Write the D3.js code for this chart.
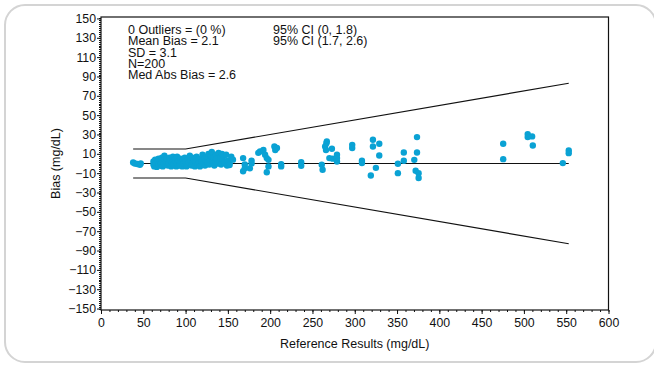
<!DOCTYPE html>
<html lang="en">
<head>
  <meta charset="UTF-8">
  <title>Bias plot</title>
  <script src="https://d3js.org/d3.v7.min.js"></script>
  <style>
    body { margin: 0; background: #fff; }
    svg { display: block; font-family: "Liberation Sans", Arial, sans-serif; }
    .tick text { font-size: 12.3px; fill: #111; }
    .tick line { stroke: #111; }
    .stats { font-size: 12.5px; fill: #111; }
    .axis-title { font-size: 12.5px; fill: #111; }
    .point { fill: #0aa2d4; }
    .ref-line { fill: none; stroke: #111; stroke-width: 1.1; }
  </style>
</head>
<body>
  <svg id="chart" width="654" height="365"></svg>
  <script>
    // ---- data ----
    // reference result (mg/dL) and bias (mg/dL), one entry per point
    const refX = [
      38, 40, 43, 46, 47,
      62, 62, 63, 64, 65, 66, 67, 68, 68, 70, 70, 71, 72, 73, 74, 75, 75, 76,
      77, 78, 79, 80, 81, 82, 83, 84, 85, 86, 87, 88, 89, 90, 90,
      92, 93, 94, 95, 96, 97, 98, 99, 100, 101, 102, 103, 104, 105,
      106, 107, 108, 109, 110, 111, 112, 113, 114, 115, 116, 117, 118, 119, 120,
      121, 122, 123, 124, 125, 126, 127, 128, 129, 130, 131, 132, 133, 134, 135,
      136, 137, 138, 139, 140, 141, 142, 143, 144, 145, 146, 148, 149, 150, 152, 152, 154, 156,
      168, 168, 170, 170, 176, 178, 178, 186, 188, 192, 194, 196, 198, 198, 196,
      205, 206, 208, 213, 213, 236.7, 236.7,
      261, 262, 266.5, 267, 265, 266, 273, 270, 274, 279, 279, 279,
      297, 297, 308.5, 308.5, 321.5, 321.5, 329, 329, 325, 319,
      351, 351, 358, 358, 370.4, 373.6, 373.6, 372, 375.5, 375.5,
      475.5, 475.5, 504.5, 504.5, 509.7, 510.5, 546, 553, 553
    ];
    const bias = [
      1, 0, -0.5, -1.3, 0,
      -1, 2, -3, 4, 0, -3.5, 2, 5, -1, 3, -2, 0, 6, -3, 1, 8, 4, -1,
      2, 5, -2, 0, 6, 3, -3, 1, 7, -1, 4, 2, -3, 7, 0,
      3, -2, 5, 1, -3, 4, 0, 6, 2, -3, -1, 5, 1, 8,
      3, -2, 6, 0, 4, -3, 2, 7, -1, 4, 1, -3, 5, 2, 9,
      0, 5, -2, 3, 7, 1, 10, -1, 4, 8, 12, 2, 6, -2, 3,
      9, 5, 0, 11, 3, 6, -1, 10, 4, 8, 1, 9, -2, 3, 0, -1.5, 7, 4,
      5.6, -8, -1, -4.8, -5, 3, 0, 11, 12.4, 14, 9, 5.6, 3.8, -3, -9,
      17.6, 14, 16, -0.6, -3, 1.4, -2.4,
      -1.3, -6.5, 21, 22.8, 17.6, 14, 15.2, 5.6, 5, 9, 5.6, 2,
      19.3, 16, 2.8, 0.4, 24.5, 17.6, 20.4, 8.3, -4.5, -12.4,
      -0.3, -10, 11.4, 2.8, 3.8, 27.3, 11.4, -7.5, -10, -15,
      20.4, 4.5, 30.4, 27.3, 28, 18.6, 0.4, 13.4, 10.7
    ];

    // zero line and allowable-error limits (corner points of each line)
    const limitX     = [38, 100, 553];
    const limitUpper = [15, 15, 83];
    const limitLower = [-15, -15, -83];
    const zeroLine   = [0, 0, 0];

    const xMajorTicks = d3.range(0, 601, 50);
    const xMinorTicks = d3.range(0, 601, 10);
    const yMajorTicks = d3.range(-150, 151, 20);
    const yMinorTicks = d3.range(-150, 151, 2);

    const statsLeft  = ["0 Outliers = (0 %)", "Mean Bias = 2.1", "SD = 3.1", "N=200", "Med Abs Bias = 2.6"];
    const statsRight = ["95% CI (0, 1.8)", "95% CI (1.7, 2.6)"];

    // ---- layout ----
    const svg = d3.select("#chart");
    const plot = { left: 101, right: 608.5, top: 17, bottom: 310 };

    const x = d3.scaleLinear().domain([0, 600]).range([plot.left, plot.right]);
    const y = d3.scaleLinear().domain([-151.5, 151.5]).range([plot.bottom, plot.top]);

    // card behind the chart
    svg.append("rect")
      .attr("x", 5).attr("y", 5)
      .attr("width", 651).attr("height", 357)
      .attr("rx", 20).attr("ry", 20)
      .attr("fill", "#fff")
      .attr("stroke", "#d4d4d4")
      .attr("stroke-width", 2);

    // minor ticks first so majors sit on top
    svg.append("g")
      .attr("transform", `translate(0,${plot.bottom})`)
      .call(d3.axisBottom(x).tickValues(xMinorTicks).tickSize(2).tickFormat(""))
      .call(g => g.select(".domain").remove());

    svg.append("g")
      .attr("transform", `translate(0,${plot.bottom})`)
      .call(d3.axisBottom(x).tickValues(xMajorTicks).tickSize(4).tickPadding(4.5))
      .call(g => g.select(".domain").remove());

    svg.append("g")
      .attr("transform", `translate(${plot.left},0)`)
      .call(d3.axisLeft(y).tickValues(yMinorTicks).tickSize(2).tickFormat(""))
      .call(g => g.select(".domain").remove())
      .call(g => g.selectAll("line").attr("shape-rendering", "crispEdges"));

    svg.append("g")
      .attr("transform", `translate(${plot.left},0)`)
      .call(d3.axisLeft(y).tickValues(yMajorTicks).tickSize(4).tickPadding(1))
      .call(g => g.select(".domain").remove());

    svg.selectAll("g[font-family]").attr("font-family", null).attr("font-size", null);

    // plot frame
    svg.append("rect")
      .attr("x", plot.left).attr("y", plot.top)
      .attr("width", plot.right - plot.left).attr("height", plot.bottom - plot.top)
      .attr("fill", "none")
      .attr("stroke", "#111")
      .attr("stroke-width", 1.2);

    // reference lines
    const line = d3.line().x(d => x(d[0])).y(d => y(d[1]));
    [limitUpper, zeroLine, limitLower].forEach(vals => {
      svg.append("path")
        .attr("class", "ref-line")
        .attr("d", line(limitX.map((v, i) => [v, vals[i]])));
    });

    // points
    svg.append("g")
      .selectAll("circle")
      .data(refX.map((v, i) => ({ x: v, b: bias[i] })))
      .join("circle")
      .attr("class", "point")
      .attr("cx", d => x(d.x))
      .attr("cy", d => y(d.b))
      .attr("r", 3.2);

    // statistics block
    svg.append("g").selectAll("text")
      .data(statsLeft)
      .join("text")
      .attr("class", "stats")
      .attr("x", 128)
      .attr("y", (d, i) => 34.3 + i * 11.1)
      .text(d => d);

    svg.append("g").selectAll("text")
      .data(statsRight)
      .join("text")
      .attr("class", "stats")
      .attr("x", 273)
      .attr("y", (d, i) => 34.3 + i * 11.1)
      .text(d => d);

    // axis titles
    svg.append("text")
      .attr("class", "axis-title")
      .attr("x", (plot.left + plot.right) / 2)
      .attr("y", 348)
      .attr("text-anchor", "middle")
      .text("Reference Results (mg/dL)");

    svg.append("text")
      .attr("class", "axis-title")
      .attr("transform", `translate(60,${y(0)}) rotate(-90)`)
      .attr("text-anchor", "middle")
      .text("Bias (mg/dL)");
  </script>
</body>
</html>
